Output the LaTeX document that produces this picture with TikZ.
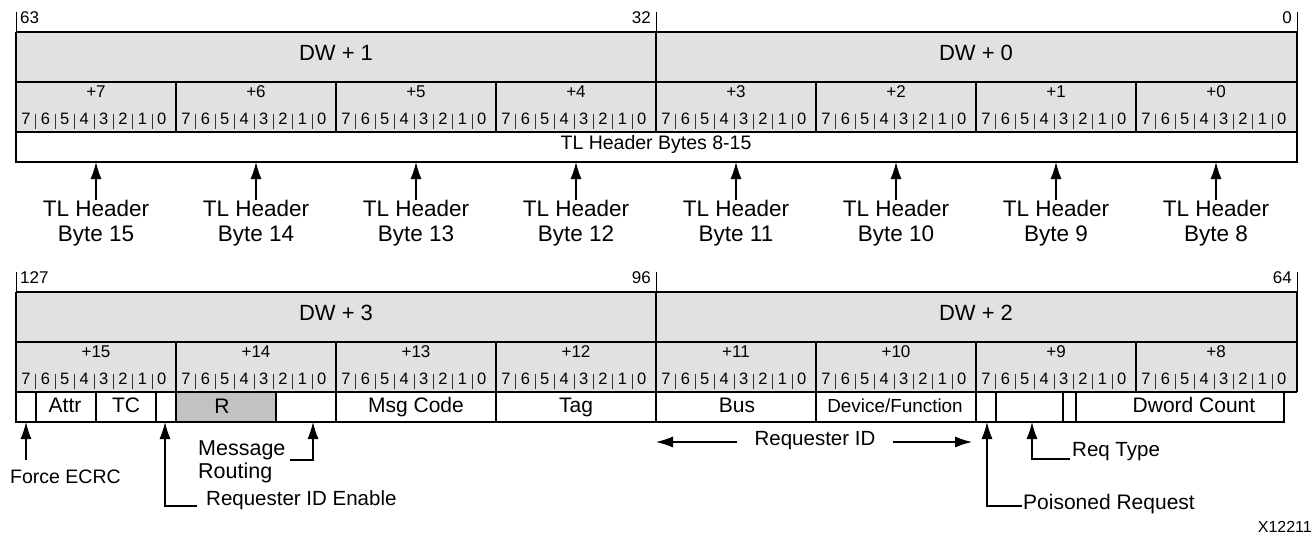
\documentclass[tikz,border=0pt]{standalone}
\usepackage{fontspec}
\setmainfont{Liberation Sans}
\usetikzlibrary{arrows.meta}
\definecolor{cellgray}{HTML}{E1E1E1}
\definecolor{resgray}{HTML}{C2C2C2}
\begin{document}
\begin{tikzpicture}[x=1pt,y=-1pt,
  frameline/.style={line width=1.6pt},
  tickline/.style={line width=1pt},
  bitsep/.style={line width=0.8pt,draw=black!80},
  fieldbox/.style={draw,line width=1.3pt},
  txtbase/.style={inner sep=0pt,text height=0.72em,text depth=0pt},
  bigtxt/.style={txtbase,font=\fontsize{20.5}{24}\selectfont},
  fieldtxt/.style={txtbase,font=\fontsize{21}{25}\selectfont},
  tltxt/.style={txtbase,font=\fontsize{22.5}{26}\selectfont},
  dwtxt/.style={txtbase,font=\fontsize{22}{26}\selectfont},
  smalltxt/.style={txtbase,font=\fontsize{17}{20}\selectfont},
  bittxt/.style={txtbase,font=\fontsize{16.5}{20}\selectfont},
  devtxt/.style={txtbase,font=\fontsize{18.9}{22}\selectfont},
  arrowline/.style={line width=1.1pt,-{Latex[length=17pt,width=11pt]}},
]
\useasboundingbox (0,0) rectangle (1316,542);

% ---------- shaded rows of both blocks ----------
\foreach \oy in {0,260} {
  \fill[cellgray] (16,32+\oy) rectangle (1297,132+\oy);
  \draw[tickline] (16,12+\oy) -- (16,32+\oy) (656,12+\oy) -- (656,32+\oy) (1297,12+\oy) -- (1297,32+\oy);
  \draw[frameline] (16,32+\oy) -- (1297,32+\oy) (16,82+\oy) -- (1297,82+\oy) (16,132+\oy) -- (1297,132+\oy);
  \draw[frameline] (656,32+\oy) -- (656,132+\oy);
  \foreach \x in {176,336,496,816,976,1136} \draw[frameline] (\x,82+\oy) -- (\x,132+\oy);
}
% top block outline
\draw[frameline] (16,32) -- (16,162) -- (1297,162) -- (1297,32);
% bottom block outline
\draw[frameline] (16,292) -- (16,392) (1297,292) -- (1297,392);

% ---------- labels of both blocks ----------
\foreach \blk/\oy/\hi/\md/\lw/\dwl/\dwr/\hb in {t/0/63/32/0/1/0/7, b/260/127/96/64/3/2/15} {
  \node[smalltxt,anchor=west] (hi-\blk) at (20,20+\oy) {\hi};
  \node[smalltxt,anchor=east] (md-\blk) at (651,20+\oy) {\md};
  \node[smalltxt,anchor=east] (lw-\blk) at (1292,20+\oy) {\lw};
  \node[dwtxt] (dwl-\blk) at (336,57+\oy) {DW + \dwl};
  \node[dwtxt] (dwr-\blk) at (976,57+\oy) {DW + \dwr};
  \foreach \b in {0,...,7} {
    \pgfmathtruncatemacro\bn{\hb-\b}
    \node[smalltxt] (by-\blk-\b) at ({96+160*\b},94+\oy) {+\bn};
    \foreach \i in {0,...,7} {
      \pgfmathtruncatemacro\d{7-\i}
      \node[bittxt] (bit-\blk-\b-\i) at ({16+160*\b+10+19.4*\i},121+\oy) {\d};
    }
    \foreach \i in {0,...,6}
      \draw[bitsep] ({16+160*\b+19.8+19.4*\i},113.5+\oy) -- ++(0,15);
  }
}

% ---------- top block: header bytes ----------
\node[bigtxt,font=\fontsize{19.5}{23}\selectfont] (tlbytes) at (656,146) {TL Header Bytes 8-15};
\foreach \b in {0,...,7} {
  \pgfmathtruncatemacro\n{15-\b}
  \node[tltxt] (tlh-\b) at ({96+160*\b},213) {TL Header};
  \node[tltxt] (tlb-\b) at ({96+160*\b},238) {Byte \n};
  \coordinate (tip-\b) at ({96+160*\b},162);
  \draw[arrowline] ([yshift=9pt]tlh-\b.north) -- (tip-\b);
}

% ---------- bottom block: fields ----------
\foreach \a/\c in {16/36,36/96,96/156,156/176,276/336,336/496,496/656,656/816,816/976,976/996,996/1063,1063/1076,1076/1284}
  \draw[fieldbox] (\a,392) rectangle (\c,422);
\filldraw[fieldbox,fill=resgray] (176,392) rectangle (276,422);

\node[fieldtxt] (attr) at (65,408.5) {Attr};
\node[fieldtxt] (tc) at (126,408.5) {TC};
\node[fieldtxt] (rsv) at (222,410) {R};
\node[fieldtxt] (msg) at (416,408.5) {Msg Code};
\node[fieldtxt] (tag) at (576,408.5) {Tag};
\node[fieldtxt] (bus) at (737,408.5) {Bus};
\node[devtxt] (devfn) at (895,408.5) {Device/Function};
\node[fieldtxt] (dwc) at (1194,408.5) {Dword Count};

% Force ECRC
\node[bigtxt,font=\fontsize{19.5}{23}\selectfont,anchor=west] (fecrc) at (10,480) {Force ECRC};
\coordinate (fecrc-tip) at (26,422);
\coordinate (fecrc-start) at (26,460);
\draw[arrowline] (fecrc-start) -- (fecrc-tip);

% Requester ID Enable
\node[bigtxt,anchor=west] (riden) at (206,502) {Requester ID Enable};
\coordinate (riden-tip) at (165,422);
\coordinate (riden-start) at (197,506);
\draw[arrowline] (riden-start) -| (riden-tip);

% Message Routing
\node[bigtxt,font=\fontsize{21.5}{25}\selectfont,anchor=west] (msgr1) at (198,452) {Message};
\node[bigtxt,font=\fontsize{21.5}{25}\selectfont,anchor=west] (msgr2) at (198,475) {Routing};
\coordinate (msgr-tip) at (313,422);
\coordinate (msgr-start) at (290,460);
\draw[arrowline] (msgr-start) -| (msgr-tip);

% Requester ID
\node[bigtxt] (reqid) at (815,442) {Requester ID};
\coordinate (reqid-l) at (656,442);
\coordinate (reqid-r) at (972,442);
\draw[arrowline] ([xshift=-17pt]reqid.west) -- (reqid-l);
\draw[arrowline] ([xshift=17pt]reqid.east) -- (reqid-r);

% Poisoned Request
\node[bigtxt,font=\fontsize{21}{25}\selectfont,anchor=west] (poison) at (1023,506) {Poisoned Request};
\coordinate (poison-tip) at (987,422);
\draw[arrowline] ([xshift=-1pt]poison.west) -| (poison-tip);

% Req Type
\node[bigtxt,anchor=west] (reqtype) at (1072,453) {Req Type};
\coordinate (reqtype-tip) at (1032,422);
\coordinate (reqtype-start) at (1070,459);
\draw[arrowline] (reqtype-start) -| (reqtype-tip);

% figure id
\node[smalltxt,font=\fontsize{16}{19}\selectfont,anchor=east] (figid) at (1312,529) {X12211};
\end{tikzpicture}
\end{document}
